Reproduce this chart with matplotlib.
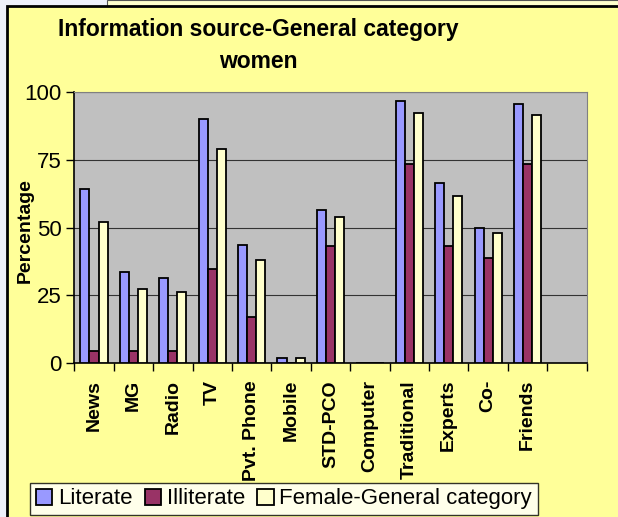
import numpy as np
import matplotlib
matplotlib.use("Agg")
import matplotlib.pyplot as plt
from matplotlib.patches import Rectangle

plt.rcParams['font.family'] = ['Liberation Sans', 'DejaVu Sans']

categories = ['News', 'MG', 'Radio', 'TV', 'Pvt. Phone', 'Mobile', 'STD-PCO',
              'Computer', 'Traditional', 'Experts', 'Co-', 'Friends', '']
literate = [64, 33.5, 31.5, 90, 43.4, 2, 56.5, 0, 96.5, 66.3, 50, 95.3]
illiterate = [4.5, 4.5, 4.5, 34.7, 17.2, 0, 43.3, 0, 73.5, 43.3, 38.6, 73.5]
female_general = [52, 27.5, 26.4, 79, 38, 2, 54, 0, 92, 61.7, 48, 91.4]
series_names = ['Literate', 'Illiterate', 'Female-General category']
colors = ['#9999FF', '#993366', '#FFFFCC']

W, H = 618, 517
fig = plt.figure(figsize=(W / 100, H / 100), dpi=100)
fig.patch.set_facecolor('#EEF0FA')

# chart area background (excel style)
fig.patches.append(Rectangle((107 / W, 1 - 6 / H), 1, 6 / H, transform=fig.transFigure,
                             facecolor='#FFFFCC', edgecolor='#555555', lw=0.8, zorder=-2))
fig.patches.append(Rectangle((7 / W, -0.1), 1.1, 1 - 5.5 / H + 0.1, transform=fig.transFigure,
                             facecolor='#FFFF99', edgecolor='black', lw=2, zorder=-1))

ax = fig.add_axes([74.3 / W, 1 - 363.3 / H, (586.7 - 74.3) / W, (363.3 - 91.7) / H])
ax.set_zorder(1)
ax.set_facecolor('#C0C0C0')

n = len(categories)
x = np.arange(len(literate)) + 0.5
bw = 0.23
for i, (vals, c) in enumerate(zip([literate, illiterate, female_general], colors)):
    ax.bar(x + (i - 1) * bw, vals, width=bw, color=c, edgecolor='black', lw=1.3,
           label=series_names[i], zorder=3)

ax.set_xlim(0, n)
ax.set_ylim(0, 100)
ax.set_yticks([0, 25, 50, 75, 100])
ax.grid(axis='y', color='#333333', lw=0.8, zorder=1)
ax.tick_params(axis='y', labelsize=16, length=6, width=1, pad=3, direction='out')

ax.set_xticks(np.arange(n + 1))
ax.set_xticklabels([])
ax.set_xticks(np.arange(n) + 0.5, minor=True)
ax.set_xticklabels(categories, minor=True, rotation=90, fontsize=14,
                   fontweight='bold', va='top')
ax.tick_params(axis='x', which='major', length=6, width=1, direction='out')
ax.tick_params(axis='x', which='minor', length=0, pad=12)

for s in ['top', 'right']:
    ax.spines[s].set_color('#808080')
for s in ['left', 'bottom']:
    ax.spines[s].set_color('black')
    ax.spines[s].set_linewidth(1.2)

fig.text(25 / W, 1 - 231 / H, 'Percentage', rotation=90, fontsize=14,
         fontweight='bold', ha='center', va='center', zorder=5)

fig.text(258 / W, 1 - 36 / H, 'Information source-General category', fontsize=16.5,
         fontweight='bold', ha='center', va='baseline')
fig.text(258 / W, 1 - 68 / H, 'women', fontsize=16.5, fontweight='bold',
         ha='center', va='baseline')

leg = fig.legend(loc='lower left', bbox_to_anchor=(30 / W, 1 - 515 / H), ncol=3,
                 fontsize=16, frameon=True, fancybox=False, edgecolor='black',
                 handlelength=0.75, handleheight=0.75, handletextpad=0.25,
                 columnspacing=0.55, borderpad=0.25, borderaxespad=0)
leg.get_frame().set_linewidth(1)
leg.get_frame().set_facecolor('white')
leg.set_zorder(10)

fig.savefig('out.png', dpi=100, facecolor=fig.get_facecolor())
